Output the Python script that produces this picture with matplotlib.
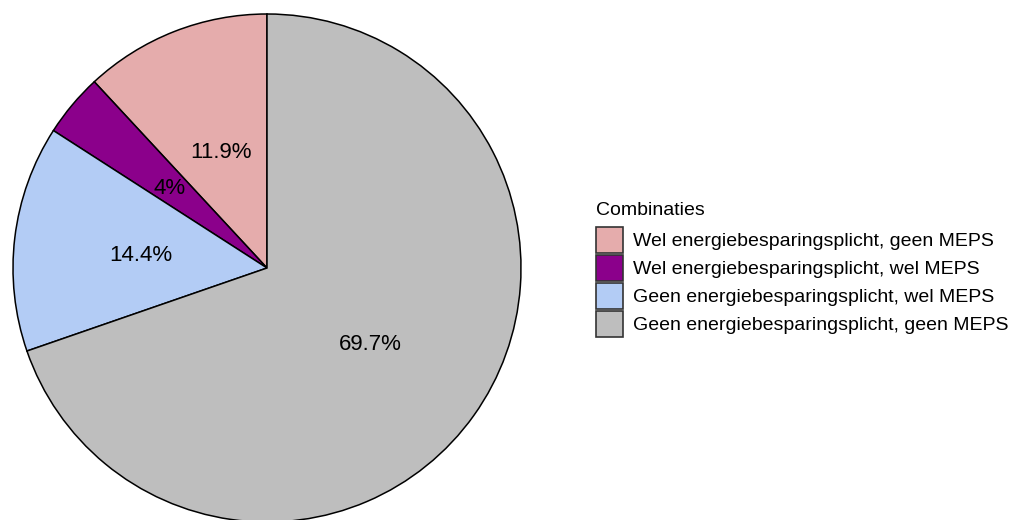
import matplotlib
matplotlib.use("Agg")
import matplotlib.pyplot as plt
from matplotlib.patches import Patch

plt.rcParams['font.family'] = ['Liberation Sans', 'DejaVu Sans']

categories = ["Wel energiebesparingsplicht, geen MEPS",
              "Wel energiebesparingsplicht, wel MEPS",
              "Geen energiebesparingsplicht, wel MEPS",
              "Geen energiebesparingsplicht, geen MEPS"]
shares = [11.9, 4, 14.4, 69.7]
pct_labels = ["11.9%", "4%", "14.4%", "69.7%"]
colors = ["#E5ACAC", "#8B008B", "#B3CCF5", "#BEBEBE"]

W, H = 1011, 520
fig = plt.figure(figsize=(W / 100, H / 100), dpi=100)

# pie centre at (267, 268) px from top-left, radius 254 px
r = 254
cx, cy = 267, H - 268
ax = fig.add_axes([(cx - r) / W, (cy - r) / H, 2 * r / W, 2 * r / H])
wedges, texts = ax.pie(shares, colors=colors, startangle=90, counterclock=True,
                       labels=pct_labels, labeldistance=0.5, radius=1,
                       wedgeprops=dict(edgecolor="black", linewidth=1.1),
                       textprops=dict(fontsize=16, color="black",
                                      ha="center", va="center_baseline"))
ax.set_xlim(-1, 1)
ax.set_ylim(-1, 1)
ax.set_aspect("equal")
ax.axis("off")

# legend title as separate text so the gap to the keys can be set
fig.text(596 / W, 1 - 215 / H, "Combinaties", fontsize=14,
         ha="left", va="baseline")

handles = [Patch(facecolor=c, edgecolor="#333333", linewidth=1.2) for c in colors]
leg = fig.legend(handles, categories,
                 loc="upper left", bbox_to_anchor=(596 / W, 1 - 227 / H),
                 frameon=False, fontsize=14,
                 handlelength=1.39, handleheight=1.685, labelspacing=0.1,
                 handletextpad=0.5, borderpad=0, borderaxespad=0)

fig.savefig("out.png", dpi=100)
